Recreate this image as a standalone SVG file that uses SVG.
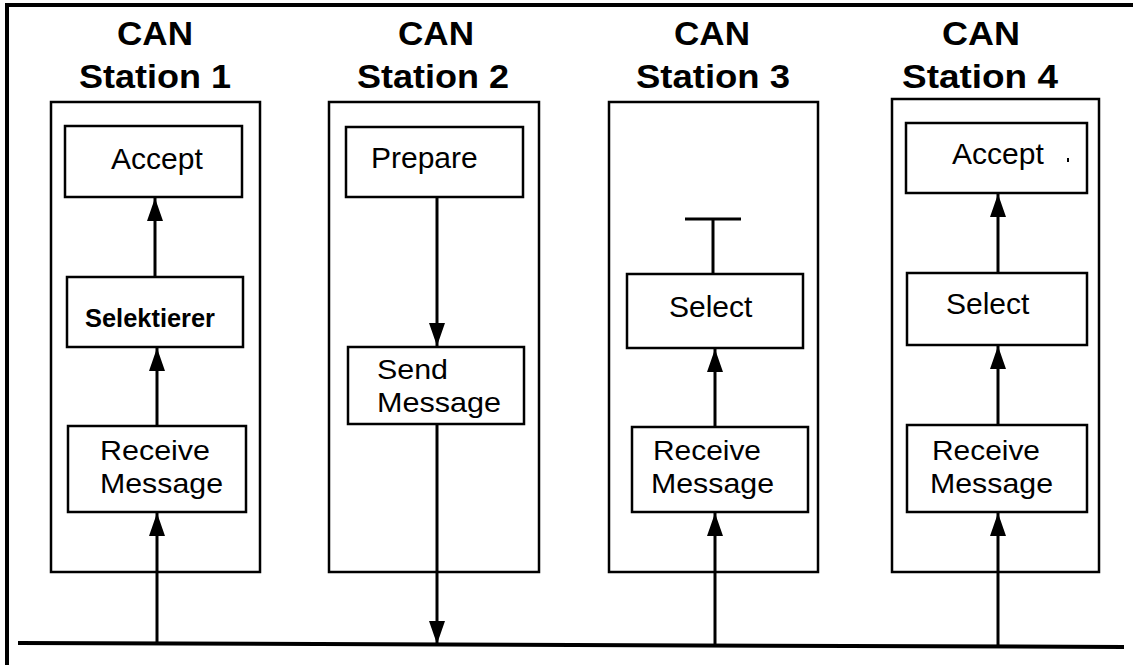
<svg xmlns="http://www.w3.org/2000/svg" width="1133" height="665" viewBox="0 0 1133 665">
<style>
.box{fill:none;stroke:#000;stroke-width:2.5}
.frame{fill:none;stroke:#000;stroke-width:4}
.ln{fill:none;stroke:#000;stroke-width:3}
.bus{fill:none;stroke:#000;stroke-width:4}
.t{font-family:"Liberation Sans",Arial,sans-serif;font-size:33px;font-weight:bold;fill:#000;text-anchor:middle}
.b{font-family:"Liberation Sans",Arial,sans-serif;font-size:30px;fill:#000}
.m{font-family:"Liberation Sans",Arial,sans-serif;font-size:28px;fill:#000}
.s{font-family:"Liberation Sans",Arial,sans-serif;font-size:25px;font-weight:bold;fill:#000}
</style>
<defs>
<marker id="ah" markerUnits="userSpaceOnUse" markerWidth="26" markerHeight="18" refX="23" refY="8" orient="auto">
<path d="M0,0 L23,8 L0,16 z" fill="#000"/>
</marker>
</defs>
<rect width="1133" height="665" fill="#fff"/>
<g id="frame">
<path class="frame" d="M7,665 L7,5 L1133,5"/>
<path class="bus" d="M18,643 L1124,647"/>
</g>
<g id="station1">
<text class="t" x="155" y="45" textLength="76" lengthAdjust="spacingAndGlyphs">CAN</text>
<text class="t" x="155" y="88" textLength="152" lengthAdjust="spacingAndGlyphs">Station 1</text>
<rect class="box" x="51" y="102" width="209" height="470"/>
</g>
<g id="s1-accept"><rect class="box" x="65" y="126" width="177" height="71"/><text class="b" x="111" y="169">Accept</text></g>
<g id="s1-selektierer"><rect class="box" x="67" y="277" width="176" height="70"/><text class="s" x="85" y="327" textLength="130" lengthAdjust="spacingAndGlyphs">Selektierer</text></g>
<g id="s1-receive"><rect class="box" x="68" y="426" width="178" height="86"/><text class="m" x="100" y="460" textLength="110" lengthAdjust="spacingAndGlyphs">Receive</text><text class="m" x="100" y="493" textLength="123" lengthAdjust="spacingAndGlyphs">Message</text></g>
<g id="station2">
<text class="t" x="436" y="45" textLength="76" lengthAdjust="spacingAndGlyphs">CAN</text>
<text class="t" x="433" y="88" textLength="152" lengthAdjust="spacingAndGlyphs">Station 2</text>
<rect class="box" x="329" y="102" width="210" height="470"/>
</g>
<g id="s2-prepare"><rect class="box" x="346" y="127" width="177" height="70"/><text class="b" x="371" y="168">Prepare</text></g>
<g id="s2-send"><rect class="box" x="348" y="347" width="176" height="77"/><text class="m" x="377" y="379" textLength="71" lengthAdjust="spacingAndGlyphs">Send</text><text class="m" x="377" y="412" textLength="124" lengthAdjust="spacingAndGlyphs">Message</text></g>
<g id="station3">
<text class="t" x="712" y="45" textLength="76" lengthAdjust="spacingAndGlyphs">CAN</text>
<text class="t" x="713" y="88" textLength="154" lengthAdjust="spacingAndGlyphs">Station 3</text>
<rect class="box" x="609" y="102" width="209" height="470"/>
</g>
<g id="s3-select"><rect class="box" x="627" y="274" width="176" height="74"/><text class="b" x="669" y="317">Select</text></g>
<g id="s3-receive"><rect class="box" x="632" y="427" width="176" height="85"/><text class="m" x="653" y="460" textLength="108" lengthAdjust="spacingAndGlyphs">Receive</text><text class="m" x="651" y="493" textLength="123" lengthAdjust="spacingAndGlyphs">Message</text></g>
<g id="station4">
<text class="t" x="981" y="45" textLength="78" lengthAdjust="spacingAndGlyphs">CAN</text>
<text class="t" x="980" y="88" textLength="156" lengthAdjust="spacingAndGlyphs">Station 4</text>
<rect class="box" x="892" y="99" width="207" height="473"/>
</g>
<g id="s4-accept"><rect class="box" x="906" y="123" width="181" height="70"/><text class="b" x="952" y="164">Accept</text><rect x="1067" y="158" width="2" height="4" fill="#000"/></g>
<g id="s4-select"><rect class="box" x="907" y="273" width="180" height="72"/><text class="b" x="946" y="314">Select</text></g>
<g id="s4-receive"><rect class="box" x="907" y="425" width="180" height="87"/><text class="m" x="932" y="460" textLength="108" lengthAdjust="spacingAndGlyphs">Receive</text><text class="m" x="930" y="493" textLength="123" lengthAdjust="spacingAndGlyphs">Message</text></g>
<g id="connectors">
<path class="ln" d="M157,643 L157,513" marker-end="url(#ah)"/>
<path class="ln" d="M157,426 L157,348" marker-end="url(#ah)"/>
<path class="ln" d="M155,277 L155,198" marker-end="url(#ah)"/>
<path class="ln" d="M437,197 L437,346" marker-end="url(#ah)"/>
<path class="ln" d="M437,424 L437,644" marker-end="url(#ah)"/>
<path class="ln" d="M715,645 L715,513" marker-end="url(#ah)"/>
<path class="ln" d="M715,427 L715,349" marker-end="url(#ah)"/>
<path class="ln" d="M713,274 L713,219"/>
<path class="ln" d="M685,219 L741,219"/>
<path class="ln" d="M998,646 L998,513" marker-end="url(#ah)"/>
<path class="ln" d="M998,425 L998,346" marker-end="url(#ah)"/>
<path class="ln" d="M998,273 L998,194" marker-end="url(#ah)"/>
</g>
</svg>
